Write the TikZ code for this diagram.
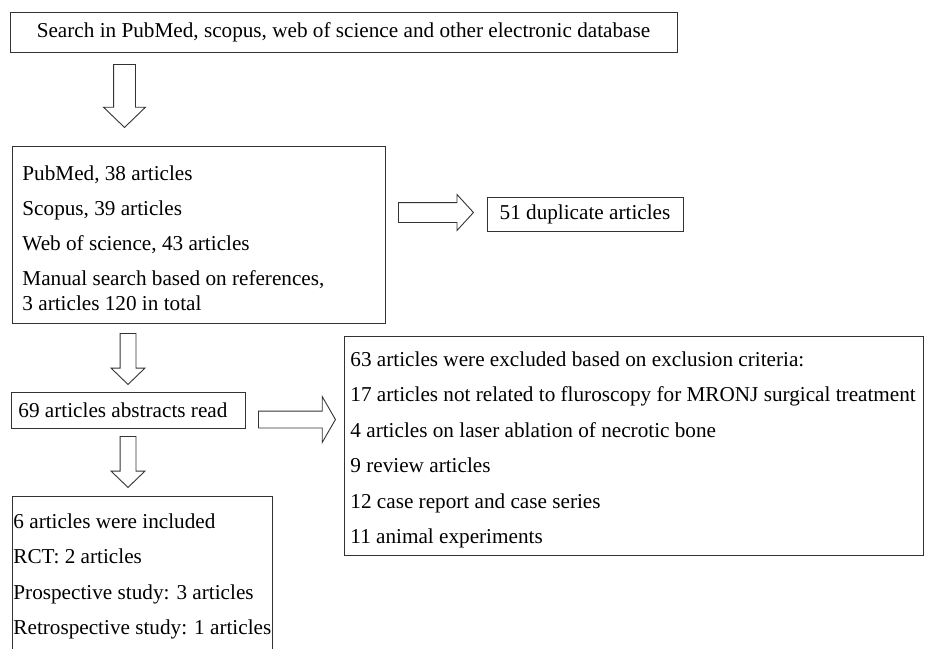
\documentclass[tikz,border=0pt]{standalone}
\usepackage{fontspec}
\setmainfont{Liberation Serif}
\usetikzlibrary{shapes.arrows}

\begin{document}
\begin{tikzpicture}[x=1pt,y=-1pt,
		box/.style={draw=black!80,line width=0.9pt,inner sep=0pt,font=\fontsize{21.2}{25}\selectfont},
		blockarr/.style={single arrow,draw=black!80,line width=0.9pt,inner xsep=0pt,single arrow head indent=0pt,anchor=tail}]
			\useasboundingbox (0,0) rectangle (925,648);
			\node[box,minimum width=667pt,minimum height=40pt] (search) at (343.5,32) {Search in PubMed, scopus, web of science and other electronic database};
			\node[box,anchor=north west,minimum height=177pt,inner xsep=10pt,text width=353pt,align=flush left] (sources) at (12,146) {\rule{0pt}{20.5pt}PubMed, 38 articles\\[10pt] Scopus, 39 articles\\[10pt] Web of science, 43 articles\\[10pt] Manual search based on references,\\ 3 articles 120 in total};
			\node[box,minimum width=196pt,minimum height=34pt] (dup) at (585,214) {51 duplicate articles};
			\node[box,anchor=west,minimum height=36pt,inner xsep=7pt,text width=220pt,align=flush left] (abstracts) at (11,410) {69 articles abstracts read};
			\node[box,anchor=north west,minimum height=219pt,inner xsep=6pt,text width=567pt,align=flush left] (excluded) at (344,336) {\rule{0pt}{22.5pt}63 articles were excluded based on exclusion criteria:\\[10.4pt] 17 articles not related to fluroscopy for MRONJ surgical treatment\\[10.4pt] 4 articles on laser ablation of necrotic bone\\[10.4pt] 9 review articles\\[10.4pt] 12 case report and case series\\[10.4pt] 11 animal experiments};
			\node[box,anchor=north west,inner xsep=1pt,inner ysep=17.5pt,align=flush left] (included) at (12,496) {6 articles were included\\[10.3pt] RCT: 2 articles\\[10.3pt] Prospective study: 3 articles\\[10.3pt] Retrospective study: 1 articles};
			\node[blockarr,rotate=-90,minimum height=63pt,minimum width=41pt,inner ysep=10.5pt,single arrow head extend=10pt,single arrow tip angle=92] (a1) at (124.5,64) {};
			\node[blockarr,rotate=-90,minimum height=51pt,minimum width=33pt,inner ysep=7.5pt,single arrow head extend=9pt,single arrow tip angle=92] (a2) at (128,333) {};
			\node[blockarr,rotate=-90,minimum height=51pt,minimum width=33pt,inner ysep=7.5pt,single arrow head extend=9pt,single arrow tip angle=92] (a3) at (128,436) {};
			\node[blockarr,minimum height=75pt,minimum width=35pt,inner ysep=9.5pt,single arrow head extend=8pt,single arrow tip angle=95] (a4) at (398,212.5) {};
			\node[blockarr,minimum height=77pt,minimum width=45pt,inner ysep=8pt,single arrow head extend=14.5pt,single arrow tip angle=120] (a5) at (258,419.5) {};
		\end{tikzpicture}
\end{document}
